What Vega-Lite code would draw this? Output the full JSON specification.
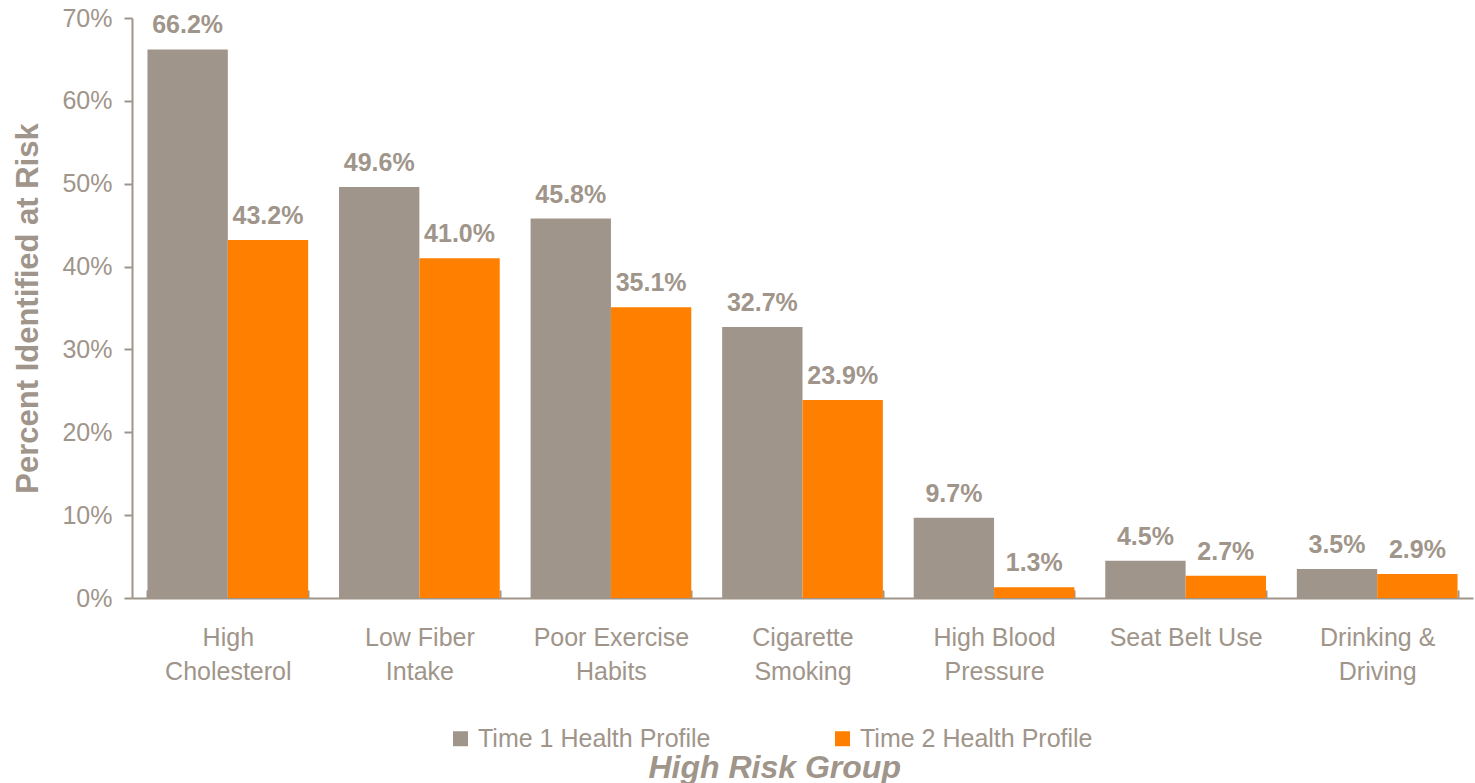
{
  "$schema": "https://vega.github.io/schema/vega-lite/v6.json",
  "width": 1341,
  "height": 580,
  "autosize": {"type": "none"},
  "padding": {"left": 132, "top": 18, "right": 2, "bottom": 185},
  "background": "white",
  "config": {
    "view": {"stroke": null},
    "font": "Liberation Sans"
  },
  "data": {
    "values": [
      {"group": "High Cholesterol", "profile": "Time 1 Health Profile", "pct": 0.662},
      {"group": "High Cholesterol", "profile": "Time 2 Health Profile", "pct": 0.432},
      {"group": "Low Fiber Intake", "profile": "Time 1 Health Profile", "pct": 0.496},
      {"group": "Low Fiber Intake", "profile": "Time 2 Health Profile", "pct": 0.410},
      {"group": "Poor Exercise Habits", "profile": "Time 1 Health Profile", "pct": 0.458},
      {"group": "Poor Exercise Habits", "profile": "Time 2 Health Profile", "pct": 0.351},
      {"group": "Cigarette Smoking", "profile": "Time 1 Health Profile", "pct": 0.327},
      {"group": "Cigarette Smoking", "profile": "Time 2 Health Profile", "pct": 0.239},
      {"group": "High Blood Pressure", "profile": "Time 1 Health Profile", "pct": 0.097},
      {"group": "High Blood Pressure", "profile": "Time 2 Health Profile", "pct": 0.013},
      {"group": "Seat Belt Use", "profile": "Time 1 Health Profile", "pct": 0.045},
      {"group": "Seat Belt Use", "profile": "Time 2 Health Profile", "pct": 0.027},
      {"group": "Drinking & Driving", "profile": "Time 1 Health Profile", "pct": 0.035},
      {"group": "Drinking & Driving", "profile": "Time 2 Health Profile", "pct": 0.029}
    ]
  },
  "encoding": {
    "x": {
      "field": "group",
      "type": "nominal",
      "sort": null,
      "scale": {"paddingInner": 0.161, "paddingOuter": 0.0807},
      "axis": {
        "title": "High Risk Group",
        "titleFont": "Liberation Sans",
        "titleFontSize": 32,
        "titleFontWeight": "bold",
        "titleFontStyle": "italic",
        "titleColor": "#A0958A",
        "titleAnchor": "start",
        "titleAlign": "left",
        "titleX": 516,
        "titleY": 179,
        "titleBaseline": "alphabetic",
        "labelAngle": 0,
        "labelFontSize": 25,
        "labelColor": "#A0958A",
        "labelPadding": 35,
        "labelLineHeight": 34,
        "labelExpr": "datum.label == 'Seat Belt Use' ? datum.label : [slice(datum.label, 0, lastindexof(datum.label, ' ')), slice(datum.label, lastindexof(datum.label, ' ') + 1)]",
        "tickBand": "extent",
        "tickSize": -8,
        "tickColor": "#A0958A",
        "tickWidth": 2,
        "domainColor": "#A0958A",
        "domainWidth": 2
      }
    },
    "xOffset": {"field": "profile", "type": "nominal"},
    "y": {
      "field": "pct",
      "type": "quantitative",
      "scale": {"domain": [0, 0.7]},
      "axis": {
        "title": "Percent Identified at Risk",
        "titleFont": "Liberation Sans",
        "titleFontSize": 31,
        "titleFontWeight": "bold",
        "titleColor": "#A0958A",
        "titleAngle": -90,
        "titleX": -104,
        "titleY": 290,
        "titleAlign": "center",
        "titleBaseline": "middle",
        "values": [0, 0.1, 0.2, 0.3, 0.4, 0.5, 0.6, 0.7],
        "format": ".0%",
        "labelFontSize": 25,
        "labelColor": "#A0958A",
        "labelPadding": 12,
        "grid": false,
        "tickSize": 8,
        "tickColor": "#A0958A",
        "tickWidth": 2,
        "domainColor": "#A0958A",
        "domainWidth": 2
      }
    }
  },
  "layer": [
    {
      "mark": {"type": "bar"},
      "encoding": {
        "color": {
          "field": "profile",
          "type": "nominal",
          "scale": {
            "domain": ["Time 1 Health Profile", "Time 2 Health Profile"],
            "range": ["#A0958A", "#FF8000"]
          },
          "legend": {
            "title": null,
            "orient": "none",
            "direction": "horizontal",
            "legendX": 316,
            "legendY": 708,
            "symbolType": "square",
            "symbolSize": 225,
            "symbolStrokeWidth": 0,
            "symbolOpacity": 1,
            "labelFontSize": 25,
            "labelColor": "#A0958A",
            "labelOffset": 5,
            "labelLimit": 400,
            "columnPadding": 119
          }
        }
      }
    },
    {
      "mark": {
        "type": "text",
        "fontSize": 25,
        "fontWeight": "bold",
        "color": "#A0958A",
        "baseline": "alphabetic",
        "dy": -16
      },
      "encoding": {
        "text": {"field": "pct", "type": "quantitative", "format": ".1%"},
        "color": {"value": "#A0958A"}
      }
    }
  ]
}
